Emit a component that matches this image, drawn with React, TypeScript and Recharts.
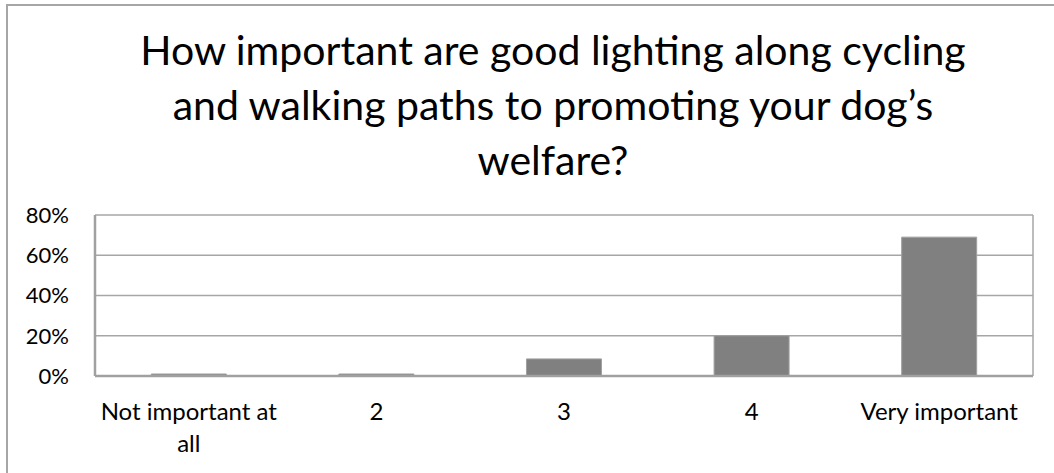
import React from "react";
import { BarChart, Bar, XAxis, YAxis, CartesianGrid } from "recharts";

const titleLines = [
  "How important are good lighting along cycling",
  "and walking paths to promoting your dog\u2019s",
  "welfare?",
];
const categories = ["Not important at all", "2", "3", "4", "Very important"];
const values = [0.01, 0.01, 0.085, 0.2, 0.69];
const yTicks = [0, 0.2, 0.4, 0.6, 0.8];

const data = categories.map((c, i) => ({ name: c, value: values[i] }));

const FONT = "Lato, 'Open Sans', sans-serif";
const XFS = 24;

let ctx: CanvasRenderingContext2D | null = null;
function measure(s: string): number {
  if (!ctx) ctx = document.createElement("canvas").getContext("2d");
  if (!ctx) return s.length * XFS * 0.5;
  ctx.font = `${XFS}px ${FONT}`;
  return ctx.measureText(s).width;
}

function wrap(text: string, maxW: number): string[] {
  const words = text.split(" ");
  const lines: string[] = [];
  let cur = "";
  for (const w of words) {
    const t = cur ? cur + " " + w : w;
    if (cur && measure(t) > maxW) {
      lines.push(cur);
      cur = w;
    } else cur = t;
  }
  if (cur) lines.push(cur);
  return lines;
}

const XTick = (props: any) => {
  const { x, y, payload } = props;
  const lines = wrap(String(payload.value), 186);
  return (
    <text
      x={x}
      y={y}
      textAnchor="middle"
      fontSize={XFS}
      fontFamily={FONT}
      fill="#000"
    >
      {lines.map((l, i) => (
        <tspan key={i} x={x} dy={i === 0 ? "0.9em" : 32}>
          {l}
        </tspan>
      ))}
    </text>
  );
};

export default function App() {
  return (
    <div
      style={{
        position: "absolute",
        left: 0,
        top: 0,
        width: 1054,
        height: 473,
        overflow: "hidden",
        background: "#fff",
      }}
    >
      <div
        style={{
          position: "absolute",
          left: 6,
          top: 4,
          width: 1200,
          height: 600,
          border: "2px solid #a6a6a6",
        }}
      />
      <div
        style={{
          position: "absolute",
          left: 0,
          top: 22,
          width: 1106,
          textAlign: "center",
          fontFamily: FONT,
          fontSize: 41,
          lineHeight: "55px",
          color: "#000",
        }}
      >
        {titleLines.map((l, i) => (
          <div key={i}>{l}</div>
        ))}
      </div>
      <div style={{ position: "absolute", left: 0, top: 0 }}>
        <BarChart
          width={1054}
          height={473}
          data={data}
          margin={{ top: 215, right: 21, left: 0, bottom: 0 }}
          barCategoryGap="30%"
        >
          <CartesianGrid
            stroke="#a6a6a6"
            strokeWidth={1.5}
            verticalCoordinatesGenerator={({ offset }: any) => [
              offset.left + offset.width,
            ]}
          />
          <XAxis
            dataKey="name"
            height={97}
            tickLine={false}
            axisLine={{ stroke: "#a0a0a0", strokeWidth: 2.5 }}
            tick={<XTick />}
            interval={0}
            tickMargin={16}
          />
          <YAxis
            width={95}
            domain={[0, 0.8]}
            ticks={yTicks}
            tickFormatter={(v: number) => `${Math.round(v * 100)}%`}
            tickLine={false}
            tickSize={0}
            tickMargin={26}
            axisLine={{ stroke: "#a0a0a0", strokeWidth: 2.5 }}
            tick={{ fill: "#000", fontSize: 22, fontFamily: FONT }}
          />
          <Bar
            dataKey="value"
            fill="#808080"
            stroke="#a0a0a0"
            strokeWidth={1}
            isAnimationActive={false}
          />
        </BarChart>
      </div>
    </div>
  );
}
